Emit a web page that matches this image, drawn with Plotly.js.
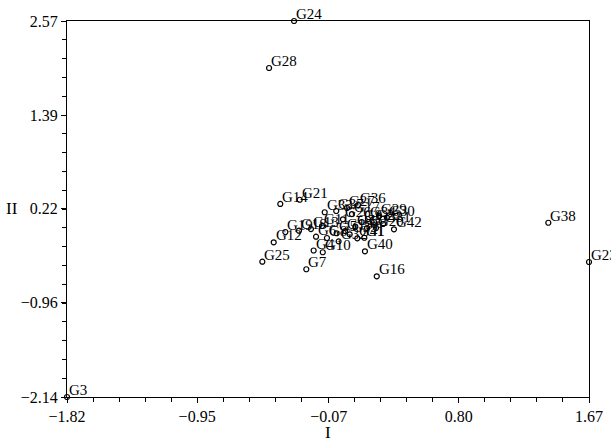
<!DOCTYPE html>
<html>
<head>
<meta charset="utf-8">
<script src="https://cdn.plot.ly/plotly-3.0.1.min.js"></script>
<style>html,body{margin:0;padding:0;background:#fff;}#chart{width:611px;height:441px;}</style>
</head>
<body>
<div id="chart"></div>
<script>
const labels = ["G3","G24","G28","G23","G38","G16","G7","G25","G12","G14","G21","G19","G18","G40","G42",
  "G33","G37","G27","G36","G17","G26","G9","G34","G22","G29","G30","G31","G2","G35","G11","G13",
  "G6","G8","G5","G15","G39","G41","G1","G4","G10","G32","G20"];
const xI = [-1.82,-0.302,-0.469,1.67,1.398,0.251,-0.220,-0.514,-0.438,-0.394,-0.264,-0.360,-0.269,0.172,0.366,
  -0.097,-0.020,0.052,0.126,0.085,0.025,0.150,0.192,0.233,0.266,0.319,0.293,0.186,0.108,-0.115,-0.189,
  -0.155,-0.082,-0.017,0.039,0.070,0.121,0.168,-0.171,-0.110,-0.004,0.246];
const yII = [-2.14,2.57,1.981,-0.449,0.043,-0.628,-0.540,-0.445,-0.202,0.278,0.331,-0.073,-0.057,-0.315,-0.039,
  0.174,0.190,0.228,0.265,0.152,0.086,0.052,0.090,0.052,0.127,0.108,0.027,-0.023,-0.007,0.002,-0.036,
  -0.132,-0.148,-0.089,-0.061,-0.102,-0.152,-0.145,-0.305,-0.327,-0.190,-0.023];
const xTicks = [-1.82,-0.95,-0.07,0.80,1.67];
const xTickText = ["−1.82","−0.95","−0.07","0.80","1.67"];
const yTicks = [-2.14,-0.96,0.22,1.39,2.57];
const yTickText = ["−2.14","−0.96","0.22","1.39","2.57"];

const font = "'Liberation Serif'";
const trace = {
  x: xI, y: yII, type: "scatter", mode: "markers",
  marker: {symbol: "circle-open", size: 5, color: "#000", line: {width: 1.2, color: "#000"}},
  cliponaxis: false, hoverinfo: "none"
};
const pointLabels = labels.map((t, i) => ({
  text: t, x: xI[i], y: yII[i], xref: "x", yref: "y", showarrow: false,
  xanchor: "left", yanchor: "middle", xshift: 0, yshift: 7,
  font: {family: font, size: 15, color: "#000"}
}));
const axisCommon = {
  showgrid: false, zeroline: false, showline: true, mirror: true,
  linecolor: "#000", linewidth: 1, ticks: "outside", ticklen: 5, tickcolor: "#000",
  tickmode: "array", tickfont: {family: font, size: 16, color: "#000"}
};
const layout = {
  width: 611, height: 441,
  margin: {l: 67, r: 22, t: 21, b: 44},
  paper_bgcolor: "#fff", plot_bgcolor: "#fff",
  font: {family: font},
  showlegend: false,
  xaxis: Object.assign({}, axisCommon, {
    range: [-1.82, 1.67], tickvals: xTicks, ticktext: xTickText,
    minor: {tickmode: "linear", tick0: -1.82, dtick: 0.1745, ticks: "outside", ticklen: 4, tickcolor: "#000", showgrid: false}
  }),
  yaxis: Object.assign({}, axisCommon, {
    range: [-2.14, 2.57], tickvals: yTicks, ticktext: yTickText,
    minor: {tickmode: "linear", tick0: -2.14, dtick: 0.2355, ticks: "outside", ticklen: 4, tickcolor: "#000", showgrid: false}
  }),
  annotations: pointLabels.concat([
    {text: "I", x: 0.5, xref: "paper", y: 0, yref: "paper", yshift: -35, showarrow: false,
     xanchor: "center", yanchor: "middle", font: {family: font, size: 17, color: "#000"}},
    {text: "II", x: 0, xref: "paper", xshift: -55, y: 0.22, yref: "y", showarrow: false,
     xanchor: "center", yanchor: "middle", font: {family: font, size: 17, color: "#000"}}
  ])
};
Plotly.newPlot("chart", [trace], layout, {displayModeBar: false, staticPlot: true});
</script>
</body>
</html>
